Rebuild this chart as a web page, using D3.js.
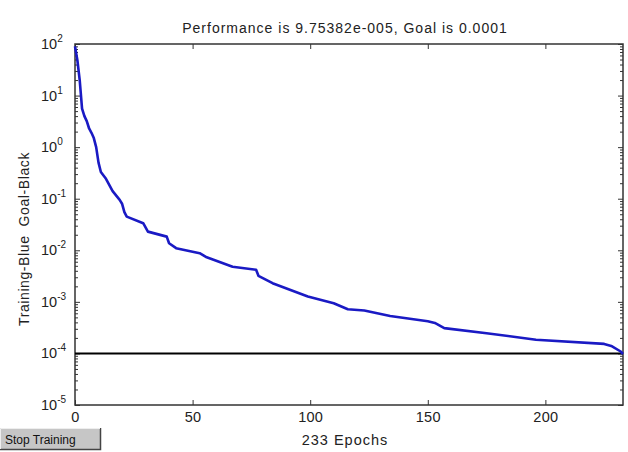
<!DOCTYPE html>
<html>
<head>
<meta charset="utf-8">
<style>
  body { margin: 0; background: #fff; }
  svg { display: block; font-family: Arial, "Liberation Sans", sans-serif; }
</style>
</head>
<body>
<div id="container"></div>
<script src="https://cdn.jsdelivr.net/npm/d3@7"></script>
<script>
    // Data
    let epochs = [0, 1, 2, 3, 4, 5, 6, 7, 8, 9, 10, 11, 13, 16, 19, 20, 21, 22, 29, 31, 39, 40, 43,
        53, 56, 67, 77, 78, 84, 99, 110, 116, 123, 134, 150, 153, 157, 175, 196, 225, 228, 232, 233];
    let perf = [90, 49, 20, 5.6, 4, 3.2, 2.3, 1.9, 1.5, 1.0, 0.5, 0.33, 0.25, 0.14, 0.095, 0.08, 0.055, 0.045,
        0.0335, 0.023, 0.0184, 0.0137, 0.011, 0.0088, 0.0073, 0.0048, 0.0042, 0.0032, 0.0023, 0.00127,
        0.00094, 0.00072, 0.00068, 0.00053, 0.00042, 0.00039, 0.00031, 0.000247, 0.000184, 0.000153,
        0.00014, 0.000109, 0.0000975];
    let goal = 0.0001;
    let xTicks = [0, 50, 100, 150, 200];
    let yExponents = [2, 1, 0, -1, -2, -3, -4, -5];
    let titleText = "Performance is 9.75382e-005, Goal is 0.0001";
    let xLabel = "233 Epochs";
    let yLabel = "Training-Blue  Goal-Black";

    // Set up SVG
    let W = 628, H = 452;
    let margin = { top: 44, right: 5, bottom: 47, left: 75 };
    let width = W - margin.left - margin.right;
    let height = H - margin.top - margin.bottom;

    let svg = d3.select("#container")
        .append("svg")
        .attr("width", W)
        .attr("height", H);

    let g = svg.append("g")
        .attr("transform", `translate(${margin.left}, ${margin.top})`);

    let x = d3.scaleLinear().domain([0, 233]).range([0, width]);
    let y = d3.scaleLog().domain([1e-5, 1e2]).range([height, 0]);

    let majors = yExponents.map(e => Math.pow(10, e));
    let minors = [];
    for (let e = -5; e < 2; e++) {
        for (let k = 2; k <= 9; k++) minors.push(k * Math.pow(10, e));
    }

    let axisColor = "#333";

    // Plot box
    g.append("rect")
        .attr("width", width)
        .attr("height", height)
        .attr("fill", "#fff")
        .attr("stroke", axisColor)
        .attr("stroke-width", 1.5);

    // Axes (ticks pointing inward)
    let styleAxis = sel => {
        sel.select(".domain").remove();
        sel.selectAll("line").attr("stroke", axisColor);
    };

    g.append("g")
        .attr("transform", `translate(0, ${height})`)
        .call(d3.axisBottom(x).tickValues(xTicks).tickSize(-5).tickSizeOuter(0).tickPadding(7))
        .call(styleAxis)
        .call(s => s.selectAll("text")
            .attr("font-size", 14.5)
            .attr("letter-spacing", 0.3)
            .attr("font-family", "Arial, 'Liberation Sans', sans-serif")
            .attr("fill", "#222"));

    g.append("g")
        .call(d3.axisTop(x).tickValues(xTicks).tickSize(-5).tickSizeOuter(0).tickFormat(""))
        .call(styleAxis);

    g.append("g")
        .call(d3.axisLeft(y).tickValues(majors).tickSize(-5).tickSizeOuter(0).tickFormat(""))
        .call(styleAxis);
    g.append("g")
        .call(d3.axisLeft(y).tickValues(minors).tickSize(-3).tickSizeOuter(0).tickFormat(""))
        .call(styleAxis);
    g.append("g")
        .attr("transform", `translate(${width}, 0)`)
        .call(d3.axisRight(y).tickValues(majors).tickSize(-5).tickSizeOuter(0).tickFormat(""))
        .call(styleAxis);
    g.append("g")
        .attr("transform", `translate(${width}, 0)`)
        .call(d3.axisRight(y).tickValues(minors).tickSize(-3).tickSizeOuter(0).tickFormat(""))
        .call(styleAxis);

    // Y tick labels 10^n
    let yl = g.selectAll(".ylab")
        .data(yExponents)
        .enter()
        .append("text")
        .attr("class", "ylab")
        .attr("x", -34)
        .attr("y", d => y(Math.pow(10, d)) + 5)
        .attr("font-size", 14.5)
        .attr("fill", "#222");
    yl.append("tspan").text("10");
    yl.append("tspan")
        .attr("dy", -7)
        .attr("font-size", 10)
        .text(d => d);

    // Goal line
    g.append("line")
        .attr("x1", 0)
        .attr("x2", width)
        .attr("y1", y(goal))
        .attr("y2", y(goal))
        .attr("stroke", "#000")
        .attr("stroke-width", 2);

    // Training curve
    let line = d3.line()
        .x((d, i) => x(epochs[i]))
        .y(d => y(d));
    g.append("path")
        .datum(perf)
        .attr("d", line)
        .attr("fill", "none")
        .attr("stroke", "#1a1ac4")
        .attr("stroke-width", 2.6)
        .attr("stroke-linejoin", "round");

    // Title and labels
    svg.append("text")
        .attr("x", 345)
        .attr("y", 33)
        .attr("text-anchor", "middle")
        .attr("font-size", 14)
        .attr("letter-spacing", 1)
        .attr("fill", "#222")
        .text(titleText);

    svg.append("text")
        .attr("x", 345)
        .attr("y", 445)
        .attr("text-anchor", "middle")
        .attr("font-size", 14.5)
        .attr("letter-spacing", 1)
        .attr("fill", "#222")
        .text(xLabel);

    svg.append("text")
        .attr("transform", "translate(29, 239) rotate(-90)")
        .attr("text-anchor", "middle")
        .attr("font-size", 14)
        .attr("letter-spacing", 0.6)
        .attr("fill", "#222")
        .attr("xml:space", "preserve")
        .style("white-space", "pre")
        .text(yLabel);

    // Stop Training button
    let btn = svg.append("g").attr("transform", "translate(0, 428)");
    btn.append("rect")
        .attr("width", 101)
        .attr("height", 22)
        .attr("fill", "#c6c6c6");
    btn.append("path")
        .attr("d", "M0,21.5 H100.5 V0")
        .attr("fill", "none")
        .attr("stroke", "#444")
        .attr("stroke-width", 1.5);
    btn.append("path")
        .attr("d", "M0.5,21 V0.5 H100")
        .attr("fill", "none")
        .attr("stroke", "#eee");
    btn.append("text")
        .attr("x", 5)
        .attr("y", 15.5)
        .attr("font-size", 12)
        .attr("fill", "#111")
        .text("Stop Training");
</script>
</body>
</html>
